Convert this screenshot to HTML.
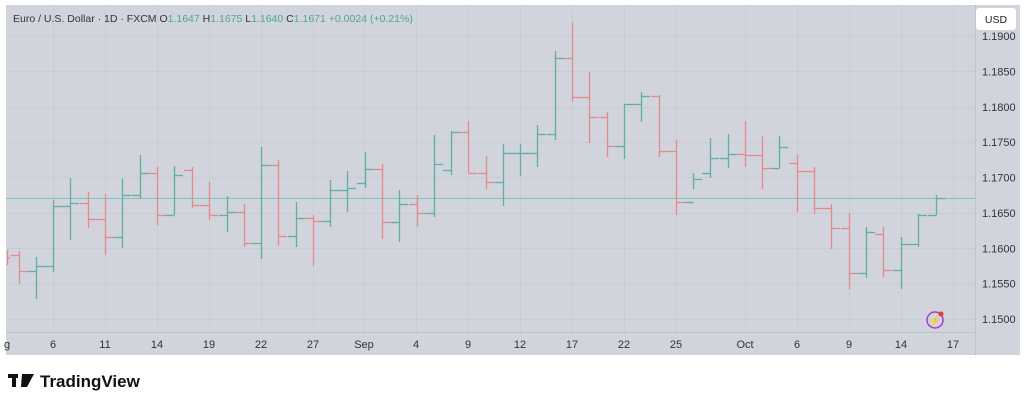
<!DOCTYPE html>
<html><head><meta charset="utf-8"><style>
html,body{margin:0;padding:0;background:#fff;width:1024px;height:404px;overflow:hidden}
svg{display:block;font-family:"Liberation Sans",sans-serif}
</style></head><body>
<svg id="c" width="1024" height="404" viewBox="0 0 1024 404">
<rect x="6" y="5" width="1014" height="350" fill="#d1d4dc"/>
<g id="grid" stroke="#c9ccd5" stroke-width="1"></g>
<line x1="6" y1="198.5" x2="975" y2="198.5" stroke="#7fc4b8" stroke-width="1"/>
<g id="bars" stroke-width="1.3"></g>
<line x1="975.5" y1="5" x2="975.5" y2="355" stroke="#bfc2ca"/>
<line x1="6" y1="332.5" x2="975" y2="332.5" stroke="#bfc2ca"/>
<g id="lbl" font-size="11" fill="#333"></g>
<rect x="976" y="8" width="40" height="22" rx="3" fill="#fff"/>
<text x="996" y="23" font-size="10.5" text-anchor="middle" fill="#222">USD</text>
<text x="13" y="22" font-size="10.5" fill="#333">Euro / U.S. Dollar · 1D · FXCM  O<tspan fill="#4ea597">1.1647</tspan>  H<tspan fill="#4ea597">1.1675</tspan>  L<tspan fill="#4ea597">1.1640</tspan>  C<tspan fill="#4ea597">1.1671</tspan>  <tspan fill="#4ea597">+0.0024 (+0.21%)</tspan></text>
<circle cx="935" cy="320" r="8" fill="none" stroke="#a03fc8" stroke-width="1.5"/>
<text x="935" y="324" font-size="10" text-anchor="middle" fill="#a03fc8">⚡</text>
<circle cx="941" cy="314" r="2.5" fill="#e53935"/>
<rect x="8" y="374" width="10" height="4" fill="#111"/><rect x="12" y="374" width="4" height="13" fill="#111"/>
<polygon points="22,374 34,374 27,387 21,387" fill="#111"/>
<text x="40" y="387" font-size="17" font-weight="bold" fill="#111">TradingView</text>
</svg>
<script>
var d=[[19,251,284,255,271],[36,257,299,271,266],[53,200,272,266,206],[70,178,240,206,203],[88,192,228,203,219],[105,194,255,219,237],[122,179,248,237,195],[140,155,199,195,173],[157,167,225,173,215],[174,166,215,215,175],[192,167,208,170,205],[209,182,220,205,215],[227,196,232,215,212],[244,204,247,212,243],[261,147,259,243,165],[278,160,246,165,236],[296,202,247,236,218],[313,215,266,218,221],[330,180,227,221,190],[347,171,212,190,188],[365,152,188,183,169],[382,164,239,169,222],[399,190,242,222,204],[417,195,227,204,213],[434,135,217,213,164],[451,131,175,170,132],[468,121,173,132,173],[486,156,189,173,182],[503,144,206,182,153],[520,144,176,153,153],[537,125,167,153,134],[555,51,140,134,58],[572,22,102,58,97],[589,72,143,97,117],[607,112,157,117,146],[624,104,159,146,104],[641,92,122,104,96],[659,95,157,96,151],[676,140,215,151,202],[693,173,189,202,179],[710,138,178,173,158],[728,134,168,158,154],[745,121,167,154,155],[762,136,189,155,168],[779,136,168,168,147],[797,155,212,163,171],[814,167,214,171,208],[831,204,249,208,228],[849,213,289,228,273],[866,227,278,273,232],[883,227,277,234,270],[901,237,289,270,244],[918,214,247,244,215],[936,195,215,215,198]];
var ns="http://www.w3.org/2000/svg",b=document.getElementById('bars'),g=document.getElementById('grid'),l=document.getElementById('lbl');
function ln(p,x1,y1,x2,y2,c){var e=document.createElementNS(ns,'line');e.setAttribute('x1',x1);e.setAttribute('y1',y1);e.setAttribute('x2',x2);e.setAttribute('y2',y2);if(c)e.setAttribute('stroke',c);p.appendChild(e);}
function tx(s,x,y,a){var e=document.createElementNS(ns,'text');e.setAttribute('x',x);e.setAttribute('y',y);if(a)e.setAttribute('text-anchor',a);e.textContent=s;l.appendChild(e);}
ln(b,7,258,10,258,'#e88a8a');ln(b,7.5,250,7.5,265,'#e88a8a');
d.forEach(function(r){var c=r[4]<=r[3]?'#5fb0a4':'#e58a8a';var x=r[0]+.5;ln(b,x,r[1],x,r[2],c);ln(b,x-8.5,r[3]+.5,x,r[3]+.5,c);ln(b,x,r[4]+.5,x+8.5,r[4]+.5,c);});
var t=[['g',7],['6',53],['11',105],['14',157],['19',209],['22',261],['27',313],['Sep',364],['4',416],['9',468],['12',520],['17',572],['22',624],['25',676],['Oct',745],['6',797],['9',849],['14',901],['17',953]];
t.forEach(function(a){if(a[1]>10)ln(g,a[1]+.5,5,a[1]+.5,332);tx(a[0],a[1],348,'middle');});
[1.19,1.185,1.18,1.175,1.17,1.165,1.16,1.155,1.15].forEach(function(p){var y=319-(p-1.15)*7075;ln(g,6,Math.round(y)+.5,975,Math.round(y)+.5);if(p<1.1899)tx(p.toFixed(4),982,y+4);else tx(p.toFixed(4),982,y+4);});
</script>
</body></html>
